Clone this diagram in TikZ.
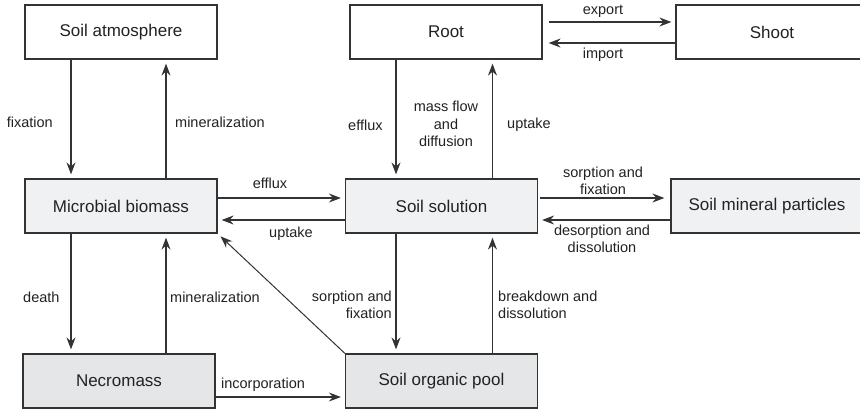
\documentclass[tikz,border=0pt]{standalone}
\usepackage{fontspec}
\setmainfont{Liberation Sans}
\usetikzlibrary{arrows.meta}
\definecolor{ln}{HTML}{333333}
\definecolor{txt}{HTML}{222222}
\definecolor{fa}{HTML}{F0F1F3}
\definecolor{fb}{HTML}{E5E6E8}
\begin{document}
\begin{tikzpicture}[x=1pt,y=-1pt,
  box/.style={draw=ln, line width=1.2pt, minimum width=192pt, minimum height=54pt, inner sep=0pt, font=\fontsize{17}{20}\selectfont, text=txt},
  lbl/.style={inner sep=0pt, font=\fontsize{14.5}{17.5}\selectfont, align=center, text=txt},
  arr/.style={draw=ln, line width=1.3pt, -{Stealth[length=12pt,width=9pt,inset=4pt]}, shorten >=4pt}]
\clip (0,0) rectangle (860,410);
\fill[white] (0,0) rectangle (860,410);
% boxes
\node[box] (atm) at (121,32) {Soil atmosphere};
\node[box] (root) at (446,32) {Root};
\node[box] (shoot) at (772,32) {Shoot};
\node[box,fill=fa] (micro) at (121,206) {Microbial biomass};
\node[box,fill=fa] (soln) at (441.5,206) {Soil solution};
\node[box,fill=fa] (mineral) at (767,206) {Soil mineral particles};
\node[box,fill=fb] (necro) at (119,381) {Necromass};
\node[box,fill=fb] (org) at (441.5,381) {Soil organic pool};
% guide coordinates
\coordinate (xa) at (71,0);
\coordinate (xb) at (166,0);
\coordinate (xc) at (396,0);
\coordinate (xd) at (492.5,0);
\coordinate (ya) at (0,198);
\coordinate (yb) at (0,220);
\coordinate (yc) at (0,22);
\coordinate (yd) at (0,43);
\coordinate (ye) at (0,397);
% arrows
\draw[arr] (atm.south -| xa) -- (micro.north -| xa);
\draw[arr] (micro.north -| xb) -- (atm.south -| xb);
\draw[arr] (root.south -| xc) -- (soln.north -| xc);
\draw[arr] (soln.north -| xd) -- (root.south -| xd);
\draw[arr, shorten <=6pt] (root.east |- yc) -- (shoot.west |- yc);
\draw[arr, shorten >=6pt] (shoot.west |- yd) -- (root.east |- yd);
\draw[arr] (micro.east |- ya) -- (soln.west |- ya);
\draw[arr] (soln.west |- yb) -- (micro.east |- yb);
\draw[arr, shorten <=2pt, shorten >=6pt] (soln.east |- ya) -- (mineral.west |- ya);
\draw[arr] (mineral.west |- yb) -- (soln.east |- yb);
\draw[arr] (micro.south -| xa) -- (necro.north -| xa);
\draw[arr] (necro.north -| xb) -- (micro.south -| xb);
\draw[arr] (soln.south -| xc) -- (org.north -| xc);
\draw[arr] (org.north -| xd) -- (soln.south -| xd);
\draw[arr, line width=1pt] (org.north west) -- (micro.south east);
\draw[arr] (necro.east |- ye) -- (org.west |- ye);
% labels
\node[lbl, anchor=east] (l1) at (53,122) {fixation};
\node[lbl, anchor=west] (l2) at (175,122) {mineralization};
\node[lbl, anchor=west] (l3) at (348,125) {efflux};
\node[lbl] (l4) at (446,124) {mass flow\\and\\diffusion};
\node[lbl, anchor=west] (l5) at (507,125) {uptake};
\node[lbl] (l6) at (603,11) {export};
\node[lbl] (l7) at (603,55) {import};
\node[lbl] (l8) at (270,183) {efflux};
\node[lbl] (l9) at (291,234) {uptake};
\node[lbl] (l10) at (603,181) {sorption and\\fixation};
\node[lbl] (l11) at (602,239) {desorption and\\dissolution};
\node[lbl, anchor=west] (l12) at (23,297) {death};
\node[lbl, anchor=west] (l13) at (170,297) {mineralization};
\node[lbl, anchor=east, align=right] (l14) at (392,305) {sorption and\\fixation};
\node[lbl, anchor=west, align=left] (l15) at (498,305) {breakdown and\\dissolution};
\node[lbl] (l16) at (263,385) {incorporation};
\end{tikzpicture}
\end{document}
